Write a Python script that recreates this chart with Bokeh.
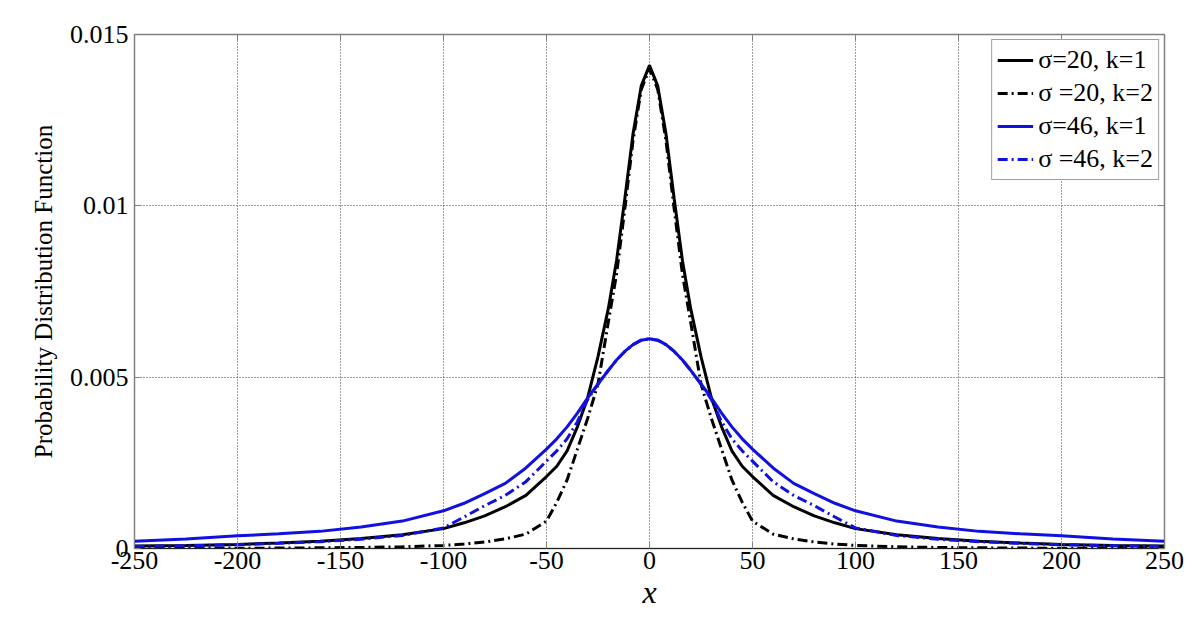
from bokeh.plotting import figure
from bokeh.models import Range1d, FixedTicker, LinearAxis, Legend, LegendItem
from bokeh.embed import file_html
from bokeh.resources import INLINE

# half-axis sample positions (x >= 0); curves are symmetric about x = 0
x_half = [0, 4, 8, 12, 16, 20, 25, 30, 35, 40, 45, 50, 60, 70, 80, 90, 100,
          120, 140, 160, 180, 200, 225, 250]

# values (in units of 1e-3)
s20_k1 = [14.1, 13.5, 12.1, 10.2, 8.4, 7.0, 5.6, 4.4, 3.55, 2.85, 2.4, 2.1, 1.55,
          1.22, 0.95, 0.75, 0.58, 0.40, 0.29, 0.21, 0.16, 0.12, 0.09, 0.07]
s20_k2 = [14.0, 13.4, 11.9, 9.9, 8.0, 6.6, 4.8, 3.8, 2.9, 2.0, 1.35, 0.80, 0.42,
          0.28, 0.19, 0.13, 0.09, 0.05, 0.03, 0.02, 0.012, 0.008, 0.005, 0.003]
s46_k1 = [6.12, 6.08, 5.95, 5.75, 5.5, 5.2, 4.8, 4.4, 3.95, 3.55, 3.2, 2.9, 2.35,
          1.9, 1.6, 1.32, 1.1, 0.80, 0.63, 0.50, 0.43, 0.37, 0.28, 0.21]
s46_k2 = [6.12, 6.08, 5.95, 5.75, 5.5, 5.2, 4.8, 4.35, 3.7, 3.2, 2.85, 2.55, 1.95,
          1.55, 1.25, 0.92, 0.60, 0.38, 0.27, 0.20, 0.15, 0.11, 0.08, 0.06]

labels = ["\u03c3=20, k=1", "\u03c3 =20, k=2", "\u03c3=46, k=1", "\u03c3 =46, k=2"]

x_ticks = [-250, -200, -150, -100, -50, 0, 50, 100, 150, 200, 250]
x_tick_labels = ["-250", "-200", "-150", "-100", "-50", "0", "50", "100", "150", "200", "250"]
y_ticks = [0, 0.005, 0.01, 0.015]
y_tick_labels = ["0", "0.005", "0.01", "0.015"]


def full_x(h):
    return [-v for v in reversed(h[1:])] + list(h)


def full_y(h):
    vals = [v * 1e-3 for v in h]
    return list(reversed(vals[1:])) + vals


xs = full_x(x_half)

p = figure(width=1184, height=618, output_backend="svg", toolbar_location=None,
           x_range=Range1d(-250, 250), y_range=Range1d(0, 0.015),
           min_border_left=134, min_border_right=20, min_border_top=34,
           min_border_bottom=70, background_fill_color="white",
           border_fill_color="white")
p.outline_line_color = "#808080"
p.outline_line_width = 1.5

FONT = "Liberation Serif"

for ax in (p.xaxis[0], p.yaxis[0]):
    ax.major_label_text_font = FONT
    ax.major_label_text_font_size = "26px"
    ax.major_label_text_color = "black"
    ax.major_tick_in = 6
    ax.major_tick_out = 0
    ax.minor_tick_line_color = None
    ax.major_tick_line_color = "#808080"
    ax.axis_label_text_font = FONT
    ax.axis_label_text_color = "black"

p.xaxis.ticker = FixedTicker(ticks=x_ticks)
p.xaxis.major_label_overrides = {t: s for t, s in zip(x_ticks, x_tick_labels)}
p.xaxis.axis_line_color = "#202020"
p.xaxis.major_label_standoff = 3
p.xaxis.axis_label = "x"
p.xaxis.axis_label_text_font_style = "italic"
p.xaxis.axis_label_text_font_size = "32px"
p.xaxis.axis_label_standoff = 2

p.yaxis.ticker = FixedTicker(ticks=y_ticks)
p.yaxis.major_label_overrides = {t: s for t, s in zip(y_ticks, y_tick_labels)}
p.yaxis.axis_line_color = "#808080"
p.yaxis.major_label_standoff = 6
p.yaxis.axis_label = "Probability Distribution Function"
p.yaxis.axis_label_text_font_style = "normal"
p.yaxis.axis_label_text_font_size = "25px"
p.yaxis.axis_label_standoff = 10

for loc, tk in (("above", x_ticks), ("right", y_ticks)):
    ax = LinearAxis(ticker=FixedTicker(ticks=tk), major_label_text_font_size="0px",
                    major_tick_in=6, major_tick_out=0, minor_tick_line_color=None,
                    major_tick_line_color="#808080", axis_line_color="#808080")
    p.add_layout(ax, loc)

p.xgrid.ticker = FixedTicker(ticks=x_ticks)
p.ygrid.ticker = FixedTicker(ticks=y_ticks)
p.grid.grid_line_color = "#404040"
p.grid.grid_line_dash = "1 2"
p.grid.grid_line_width = 1

r1 = p.line(xs, full_y(s20_k1), line_color="black", line_width=3)
r2 = p.line(xs, full_y(s20_k2), line_color="black", line_width=3, line_dash="10 4 2 4")
r3 = p.line(xs, full_y(s46_k1), line_color="#1010e0", line_width=3)
r4 = p.line(xs, full_y(s46_k2), line_color="#1010e0", line_width=3, line_dash="10 4 2 4")

legend = Legend(items=[LegendItem(label=l, renderers=[r]) for l, r in zip(labels, [r1, r2, r3, r4])],
                location="top_right")
legend.label_text_font = FONT
legend.label_text_font_size = "26px"
legend.label_text_color = "black"
legend.label_height = 30
legend.glyph_height = 30
legend.glyph_width = 36
legend.spacing = 3
legend.padding = 5
legend.margin = 5
legend.label_standoff = 5
legend.border_line_color = "#404040"
legend.border_line_width = 1
legend.background_fill_alpha = 1
p.add_layout(legend)

open("out.html", "w").write(file_html(p, INLINE))
